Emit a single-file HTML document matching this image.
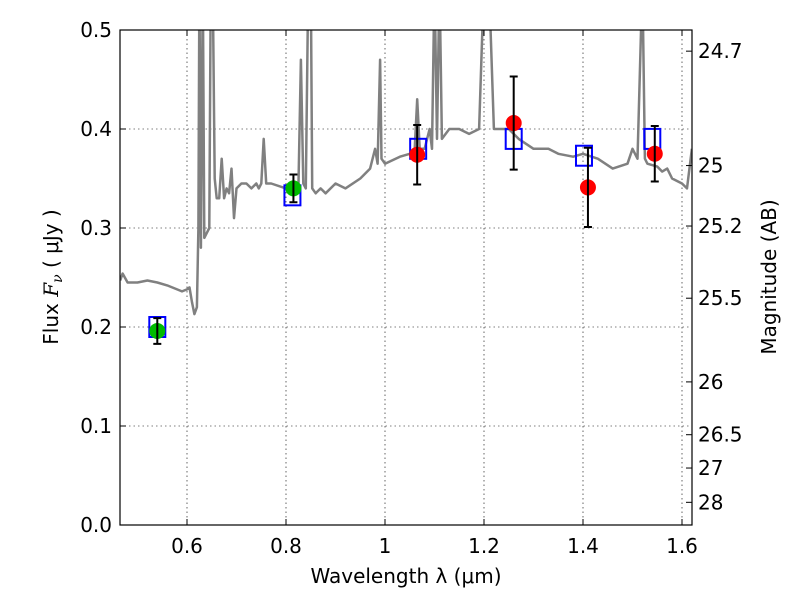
<!DOCTYPE html>
<html><head><meta charset="utf-8"><style>
body{margin:0;background:#fff;}
svg text{font-family:"DejaVu Sans","Liberation Sans",sans-serif;fill:#000;}
</style></head><body>
<svg id="chart" width="800" height="600">
<defs><clipPath id="clip"><rect x="120" y="30" width="572" height="495"/></clipPath></defs>
<rect x="0" y="0" width="800" height="600" fill="#fff"/>
<g id="grid"></g>
<g id="spec" clip-path="url(#clip)"></g>
<g id="marks"></g>
<rect x="120" y="30" width="572" height="495" fill="none" stroke="#000" stroke-width="1.2"/>
<g id="axes"></g>
<text x="406" y="583" text-anchor="middle" font-size="20">Wavelength  λ (μm)</text>
<text transform="translate(58,277) rotate(-90)" text-anchor="middle" font-size="20">Flux  <tspan font-family="DejaVu Serif" font-style="italic">F</tspan><tspan font-family="DejaVu Serif" font-style="italic" font-size="14" dy="4">ν</tspan><tspan dy="-4">  ( μJy )</tspan></text>
<text transform="translate(776,277) rotate(-90)" text-anchor="middle" font-size="20">Magnitude (AB)</text>
</svg>
<script>
const xTicks=[0.6,0.8,1.0,1.2,1.4,1.6];
const xTickLabels=["0.6","0.8","1","1.2","1.4","1.6"];
const yTicks=[0,0.1,0.2,0.3,0.4,0.5];
const yTickLabels=["0.0","0.1","0.2","0.3","0.4","0.5"];
const magTicks=[24.7,25,25.2,25.5,26,26.5,27,28];
const magTickLabels=["24.7","25","25.2","25.5","26","26.5","27","28"];
const specWave=[0.465,0.47,0.48,0.5,0.52,0.54,0.56,0.58,0.59,0.6,0.605,0.61,0.615,0.62,0.623,0.625,0.628,0.632,0.635,0.64,0.645,0.648,0.652,0.656,0.66,0.665,0.67,0.675,0.68,0.685,0.69,0.695,0.7,0.71,0.72,0.73,0.74,0.745,0.75,0.755,0.76,0.77,0.8,0.815,0.825,0.83,0.835,0.84,0.845,0.85,0.853,0.86,0.87,0.88,0.9,0.92,0.95,0.97,0.98,0.985,0.99,0.993,1.0,1.03,1.05,1.06,1.065,1.07,1.08,1.09,1.095,1.1,1.105,1.11,1.115,1.13,1.15,1.17,1.19,1.2,1.21,1.22,1.25,1.27,1.3,1.33,1.35,1.38,1.4,1.43,1.46,1.49,1.5,1.51,1.52,1.525,1.53,1.55,1.56,1.57,1.58,1.6,1.61,1.62];
const specFlux=[0.247,0.254,0.245,0.245,0.247,0.245,0.242,0.238,0.236,0.238,0.24,0.225,0.213,0.22,0.3,0.55,0.28,0.55,0.29,0.295,0.3,0.55,0.55,0.35,0.33,0.33,0.37,0.33,0.34,0.335,0.36,0.31,0.34,0.345,0.345,0.34,0.345,0.34,0.345,0.39,0.345,0.345,0.34,0.335,0.34,0.47,0.345,0.34,0.55,0.55,0.34,0.335,0.34,0.335,0.345,0.34,0.35,0.36,0.38,0.365,0.47,0.37,0.365,0.372,0.375,0.38,0.43,0.38,0.38,0.4,0.38,0.55,0.39,0.55,0.39,0.4,0.4,0.395,0.4,0.55,0.55,0.4,0.4,0.39,0.38,0.38,0.375,0.372,0.375,0.37,0.36,0.365,0.38,0.37,0.55,0.37,0.365,0.362,0.357,0.36,0.35,0.345,0.34,0.38];
const obsWave=[0.54,0.815,1.065,1.26,1.41,1.545];
const obsFlux=[0.196,0.34,0.374,0.406,0.341,0.375];
const obsErr=[0.013,0.014,0.03,0.047,0.04,0.028];
const obsColor=["#00bb00","#00bb00","#ff0000","#ff0000","#ff0000","#ff0000"];
const modelWave=[0.54,0.813,1.067,1.26,1.402,1.54];
const modelFlux=[0.2,0.333,0.38,0.39,0.373,0.39];

const X=v=>187+(v-0.6)*495, Y=v=>525-v*990;
const NS="http://www.w3.org/2000/svg";
function mk(tag,attrs,parent,txt){const e=document.createElementNS(NS,tag);for(const k in attrs)e.setAttribute(k,attrs[k]);if(txt!==undefined)e.textContent=txt;parent.appendChild(e);return e;}
const grid=document.getElementById('grid'),axes=document.getElementById('axes'),spec=document.getElementById('spec'),marks=document.getElementById('marks');
xTicks.forEach((t,i)=>{const x=X(t);
 const g=mk('line',{x1:x,x2:x,y1:30,y2:525,stroke:'#000','stroke-width':0.6,'stroke-dasharray':'1.5,3'},grid);
 
 
 mk('line',{x1:x,x2:x,y1:525,y2:519,stroke:'#000'},axes);
 mk('line',{x1:x,x2:x,y1:30,y2:36,stroke:'#000'},axes);
 const l=mk('text',{x:x,y:553,'text-anchor':'middle','font-size':20},axes,xTickLabels[i]);
 
 });
yTicks.forEach((t,i)=>{const y=Y(t);
 if(t>0&&t<0.5){const g=mk('line',{x1:120,x2:692,y1:y,y2:y,stroke:'#000','stroke-width':0.6,'stroke-dasharray':'1.5,3'},grid);
 
 }
 mk('line',{x1:120,x2:126,y1:y,y2:y,stroke:'#000'},axes);
 const l=mk('text',{x:112,y:y+7,'text-anchor':'end','font-size':20},axes,yTickLabels[i]);
 
 });
magTicks.forEach((m,i)=>{const f=Math.pow(10,(23.9-m)/2.5);const y=Y(f);
 mk('line',{x1:692,x2:686,y1:y,y2:y,stroke:'#000'},axes);
 const l=mk('text',{x:698,y:y+7,'font-size':20},axes,magTickLabels[i]);
 
 });
const pts=specWave.map((w,i)=>X(w).toFixed(1)+','+Y(specFlux[i]).toFixed(1)).join(' ');
const pl=mk('polyline',{points:pts,fill:'none',stroke:'#808080','stroke-width':2.5,'stroke-linejoin':'round'},spec);


modelWave.forEach((w,i)=>{const r=mk('rect',{x:X(w)-8,y:Y(modelFlux[i])-10,width:16,height:20,fill:'none',stroke:'#0000ff','stroke-width':2},marks);
 
 });
obsWave.forEach((w,i)=>{const x=X(w);
 const c=mk('circle',{cx:x,cy:Y(obsFlux[i]),r:8,fill:obsColor[i]},marks);
 
 
 const y1=Y(obsFlux[i]-obsErr[i]),y2=Y(obsFlux[i]+obsErr[i]);
 const e=mk('path',{d:`M${x},${y1}V${y2}M${x-4},${y1}H${x+4}M${x-4},${y2}H${x+4}`,stroke:'#000','stroke-width':2,fill:'none'},marks);
 
 });
</script>
</body></html>
